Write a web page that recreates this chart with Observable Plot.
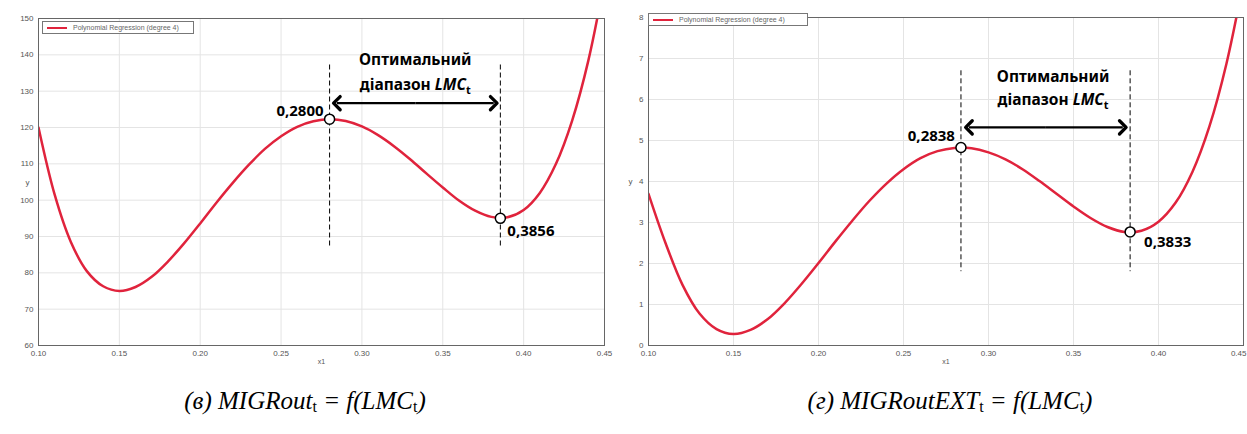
<!DOCTYPE html>
<html>
<head>
<meta charset="utf-8">
<script src="https://cdn.jsdelivr.net/npm/d3@7"></script>
<script src="https://cdn.jsdelivr.net/npm/@observablehq/plot@0.6"></script>
<style>
  body { margin: 0; background: #fff; }
  #wrap { position: relative; width: 1247px; height: 434px; overflow: hidden; background: #fff; }
  .chart { position: absolute; top: 0; }
  .cap { position: absolute; top: 387px; font-family: "Liberation Serif", "Times New Roman", serif; font-style: italic; font-size: 25px; white-space: nowrap; transform: translateX(-50%); color: #000; }
  .cap sub { font-style: normal; font-size: 16px; vertical-align: -3px; }
  .legend { position: absolute; height: 11px; border: 1px solid #777; background: #fff; font-family: "Liberation Sans", sans-serif; font-size: 7px; color: #666; line-height: 11px; white-space: nowrap; }
  .legend .sw { display: inline-block; width: 20px; height: 2px; background: #e0233c; vertical-align: middle; margin: 0 6px 0 4px; }
</style>
</head>
<body>
<div id="wrap"></div>
<script>
// ---- data ----
const xLMC = [0.10,0.11,0.12,0.13,0.14,0.15,0.16,0.17,0.18,0.19,0.20,0.21,0.22,0.23,0.24,0.25,0.26,0.27,0.28,0.29,0.30,0.31,0.32,0.33,0.34,0.35,0.36,0.37,0.38,0.39,0.40,0.41,0.42,0.43,0.44,0.45];
const yMIGRout = [120,101.5,88.5,80.4,76.3,75,76.1,78.9,83.1,88.1,93.6,99.3,104.7,109.7,114.1,117.6,120.2,121.7,122.3,121.8,120.3,117.9,114.8,111.2,107.3,103.5,99.9,97.1,95.4,95.3,97.3,102.0,110.0,121.9,138.4,160.5];
const yMIGRoutEXT = [3.7,2.5,1.48,0.78,0.40,0.28,0.38,0.64,1.03,1.50,2.01,2.54,3.05,3.53,3.95,4.30,4.57,4.74,4.82,4.81,4.71,4.54,4.30,4.01,3.70,3.39,3.11,2.89,2.77,2.80,3.02,3.48,4.24,5.35,6.88,8.89];
const xTicks = [0.10,0.15,0.20,0.25,0.30,0.35,0.40,0.45];
const yTicksA = [60,70,80,90,100,110,120,130,140,150];
const yTicksB = [0,1,2,3,4,5,6,7,8];
const optXA = [0.2800, 0.3856];
const optYA = [122.3, 95.0];
const optLabelA = ["0,2800", "0,3856"];
const optXB = [0.2838, 0.3833];
const optYB = [4.83, 2.77];
const optLabelB = ["0,2838", "0,3833"];
const annLine1 = "Оптимальний";
const annLine2 = "діапазон LMCt";
const legendText = "Polynomial Regression (degree 4)";
const xLabel = "x1";
const yLabel = "y";

const RED = "#e0233c";

function makeChart(cfg) {
  const curve = xLMC.map((x, i) => ({x, y: cfg.ys[i]}));
  const pts = cfg.optX.map((x, i) => ({x, y: cfg.optY[i], label: cfg.optLabel[i]}));
  const mid = (cfg.arrowX1 + cfg.arrowX2) / 2;
  const arrows = [{x1: mid, x2: cfg.arrowX1}, {x1: mid, x2: cfg.arrowX2}];
  const xTickLast = xTicks[xTicks.length - 1];
  const svg = Plot.plot({
    width: cfg.width, height: 370,
    marginLeft: cfg.ml, marginRight: cfg.mr, marginTop: cfg.mt, marginBottom: 25,
    x: {domain: [0.10, 0.45]},
    y: {domain: cfg.yDomain},
    style: {fontFamily: "Liberation Sans, sans-serif", background: "transparent", overflow: "hidden"},
    marks: [
      Plot.gridY(cfg.yTicks, {stroke: "#e4e4e4", strokeOpacity: 1}),
      Plot.gridX(xTicks, {stroke: "#e4e4e4", strokeOpacity: 1}),
      Plot.axisX(cfg.lastEnd ? xTicks.slice(0, -1) : xTicks, {tickFormat: d3.format(".2f"), tickSize: 0, tickPadding: 5, fontSize: 8, fill: "#555", label: null}),
      cfg.lastEnd ? Plot.axisX([xTickLast], {tickFormat: d3.format(".2f"), tickSize: 0, tickPadding: 5, fontSize: 8, fill: "#555", label: null, textAnchor: "end", dx: 3}) : null,
      Plot.axisY(cfg.yTicks, {tickSize: 0, tickPadding: 5, fontSize: 8, fill: "#555", label: null}),
      Plot.text([xLabel], {frameAnchor: "bottom", dy: 18, fontSize: 7, fill: "#555", text: d => d}),
      Plot.text([yLabel], {frameAnchor: "left", dx: cfg.yLabDx, fontSize: 8, fill: "#555", text: d => d}),
      Plot.line(curve, {x: "x", y: "y", curve: "catmull-rom", stroke: RED, strokeWidth: 2.5, clip: true}),
      Plot.ruleX(pts, {x: "x", y1: cfg.dashY1, y2: cfg.dashY2, stroke: "#000", strokeWidth: 1, strokeDasharray: "5,3"}),
      Plot.link(arrows, {x1: "x1", x2: "x2", y1: cfg.arrowY, y2: cfg.arrowY, stroke: "#000", strokeWidth: 2.2, markerEnd: "arrow"}),
      Plot.dot(pts, {x: "x", y: "y", r: 5, fill: "#fff", stroke: "#000", strokeWidth: 1.5}),
      Plot.text([pts[0]], {x: "x", y: "y", text: "label", textAnchor: "end", dx: cfg.l0dx, dy: cfg.l0dy, fontSize: 15, fontWeight: "bold", fontFamily: "Noto Sans", fill: "#000"}),
      Plot.text([pts[1]], {x: "x", y: "y", text: "label", textAnchor: "start", dx: cfg.l1dx, dy: cfg.l1dy, fontSize: 15, fontWeight: "bold", fontFamily: "Noto Sans", fill: "#000"}),
      Plot.text([annLine1], {x: cfg.annX, y: cfg.annY1, text: d => d, fontSize: 15.5, fontWeight: "bold", fontFamily: "Noto Sans", fill: "#000"}),
      Plot.text([annLine2], {x: cfg.annX, y: cfg.annY2, text: d => d, fontSize: 15.5, fontWeight: "bold", fontFamily: "Noto Sans", fill: "#000"}),
      Plot.frame({stroke: "#666", strokeWidth: 1})
    ]
  });
  svg.querySelectorAll("marker").forEach(m => {
    m.setAttribute("markerWidth", "10");
    m.setAttribute("markerHeight", "10");
  });
  svg.querySelectorAll("text").forEach(t => {
    if (t.textContent === annLine2) {
      t.textContent = "";
      const ns = "http://www.w3.org/2000/svg";
      const a = document.createElementNS(ns, "tspan"); a.textContent = "діапазон ";
      const b = document.createElementNS(ns, "tspan"); b.textContent = "LMC"; b.setAttribute("font-style", "italic");
      const c = document.createElementNS(ns, "tspan"); c.textContent = "t"; c.setAttribute("font-size", "11"); c.setAttribute("dy", "4");
      t.append(a, b, c);
    }
  });
  svg.classList.add("chart");
  svg.style.left = cfg.left + "px";
  return svg;
}

const wrap = document.getElementById("wrap");

wrap.append(makeChart({
  left: 0, width: 620, ml: 38, mr: 16, mt: 18, lastEnd: false,
  ys: yMIGRout, yDomain: [60, 150], yTicks: yTicksA, yLabDx: -13,
  optX: optXA, optY: optYA, optLabel: optLabelA,
  dashY1: 137.2, dashY2: 87.0,
  arrowX1: 0.2845, arrowX2: 0.3815, arrowY: 126.7,
  l0dx: -6, l0dy: -8, l1dx: 7, l1dy: 13,
  annX: 0.333, annY1: 138.6, annY2: 131.8
}));

wrap.append(makeChart({
  left: 620, width: 627, ml: 28, mr: 4, mt: 17, lastEnd: true,
  ys: yMIGRoutEXT, yDomain: [0, 8], yTicks: yTicksB, yLabDx: -20,
  optX: optXB, optY: optYB, optLabel: optLabelB,
  dashY1: 6.7, dashY2: 1.8,
  arrowX1: 0.2885, arrowX2: 0.3790, arrowY: 5.32,
  l0dx: -6, l0dy: -11, l1dx: 14, l1dy: 10,
  annX: 0.338, annY1: 6.55, annY2: 5.98
}));

// legends
function legend(left, top, width) {
  const d = document.createElement("div");
  d.className = "legend";
  d.style.left = left + "px"; d.style.top = top + "px"; d.style.width = width + "px";
  d.innerHTML = '<span class="sw"></span>' + legendText;
  wrap.append(d);
}
legend(42, 21, 150);
legend(648, 13, 158);

// captions
function caption(html, cx) {
  const d = document.createElement("div");
  d.className = "cap";
  d.style.left = cx + "px";
  d.innerHTML = html;
  wrap.append(d);
}
caption("(в) MIGRout<sub>t</sub> = f(LMC<sub>t</sub>)", 305);
caption("(г) MIGRoutEXT<sub>t</sub> = f(LMC<sub>t</sub>)", 950);
</script>
</body>
</html>
